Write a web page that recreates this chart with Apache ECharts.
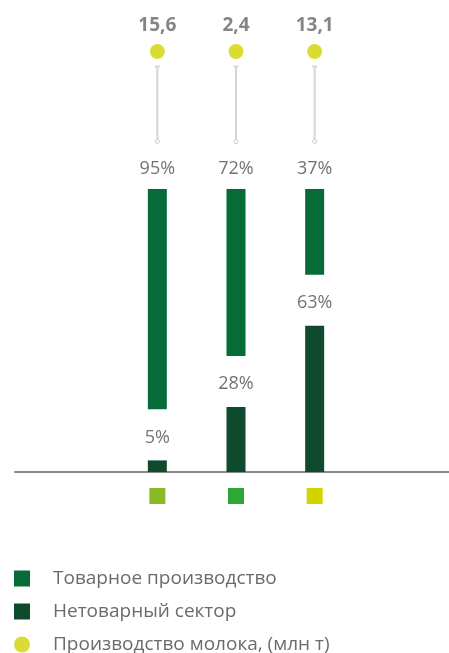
<!DOCTYPE html>
<html><head><meta charset="utf-8">
<script src="https://cdn.jsdelivr.net/npm/echarts@6/dist/echarts.min.js"></script>
<style>html,body{margin:0;padding:0;background:#fff}#c{width:449px;height:653px}</style>
</head><body><div id="c"></div>
<script>
var categories = ['1', '2', '3'];
var categoryColors = ['#86BC24', '#2BA838', '#D0D500'];
var marketShare = [95, 72, 37];
var nonMarketShare = [5, 28, 63];
var milkProduction = [15.6, 2.4, 13.1];
var seriesNames = ['Товарное производство', 'Нетоварный сектор', 'Производство молока, (млн т)'];
var legendIcons = ['rect', 'rect', 'circle'];

var GAP = 22; // visual gap between the two stacks (axis units)
var font = '"Open Sans", "Noto Sans", sans-serif';

var rich = {};
categories.forEach(function (c, i) {
  rich['c' + i] = { width: 16, height: 16, backgroundColor: categoryColors[i] };
});

var legends = seriesNames.map(function (n, i) {
  return {
    orient: 'vertical', left: 14, top: 569 + i * 33, padding: 0, itemWidth: 16, itemHeight: 16,
    data: [{ name: n, icon: legendIcons[i] }],
    textStyle: { color: '#6b6b6b', fontSize: 19, fontFamily: font, padding: [0, 0, 0, 18] },
    selectedMode: false
  };
});

var chart = echarts.init(document.getElementById('c'));
chart.setOption({
  animation: false,
  textStyle: { fontFamily: font },
  legend: legends,
  grid: [
    { left: 118, width: 236, top: 189, bottom: 181 },
    { left: 15, right: 0, top: 189, bottom: 181 },
    { left: 118, width: 236, top: 51.5, height: 90 }
  ],
  xAxis: [
    { type: 'category', gridIndex: 0, data: categories,
      axisLine: { show: false }, axisTick: { show: false },
      axisLabel: { margin: 16, formatter: function (v, i) { return '{c' + i + '|}'; }, rich: rich } },
    { type: 'category', gridIndex: 1, data: [''],
      axisLine: { show: true, lineStyle: { color: '#8a8a8a', width: 2 } },
      axisTick: { show: false }, axisLabel: { show: false } },
    { type: 'category', gridIndex: 2, data: categories, show: false }
  ],
  yAxis: [
    { type: 'value', gridIndex: 0, min: 0, max: 100 + GAP, show: false },
    { type: 'value', gridIndex: 1, min: 0, max: 1, show: false },
    { type: 'value', gridIndex: 2, min: 0, max: 1, show: false }
  ],
  series: [
    { name: seriesNames[1], type: 'bar', stack: 's', xAxisIndex: 0, yAxisIndex: 0, barWidth: 19,
      data: nonMarketShare, itemStyle: { color: '#0F4A2C' },
      label: { show: true, position: 'top', distance: 14, formatter: '{c}%', color: '#737373', fontSize: 18, fontFamily: font } },
    { name: 'gap', type: 'bar', stack: 's', xAxisIndex: 0, yAxisIndex: 0, barWidth: 19,
      data: categories.map(function () { return GAP; }), itemStyle: { color: 'transparent' },
      silent: true, tooltip: { show: false } },
    { name: seriesNames[0], type: 'bar', stack: 's', xAxisIndex: 0, yAxisIndex: 0, barWidth: 19,
      data: marketShare, itemStyle: { color: '#066B37' },
      label: { show: true, position: 'top', distance: 11, formatter: '{c}%', color: '#737373', fontSize: 18, fontFamily: font } },
    { name: 'connector', type: 'custom', xAxisIndex: 2, yAxisIndex: 2, silent: true,
      data: milkProduction.map(function (v, i) { return [i, v]; }),
      renderItem: function (params, api) {
        var top = api.coord([api.value(0), 1]);
        var bot = api.coord([api.value(0), 0]);
        var x = top[0], y1 = top[1] + 15, y2 = bot[1];
        var st = { stroke: '#d6d6d6', lineWidth: 2 };
        return { type: 'group', children: [
          { type: 'line', shape: { x1: x, y1: y1, x2: x, y2: y2 - 2 }, style: st },
          { type: 'line', shape: { x1: x - 2.5, y1: y1, x2: x + 2.5, y2: y1 }, style: st },
          { type: 'circle', shape: { cx: x, cy: y2, r: 2 }, style: { stroke: '#c8c8c8', lineWidth: 1, fill: '#fff' } }
        ] };
      }
    },
    { name: seriesNames[2], type: 'scatter', xAxisIndex: 2, yAxisIndex: 2, symbolSize: 15,
      data: milkProduction.map(function (v, i) { return [i, 1, v]; }),
      itemStyle: { color: '#D0D500' },
      label: { show: true, position: 'top', distance: 9, color: '#666', fontSize: 19, fontWeight: 'bold', fontFamily: font,
        formatter: function (p) { return String(p.value[2]).replace('.', ','); } } }
  ]
});
</script></body></html>
